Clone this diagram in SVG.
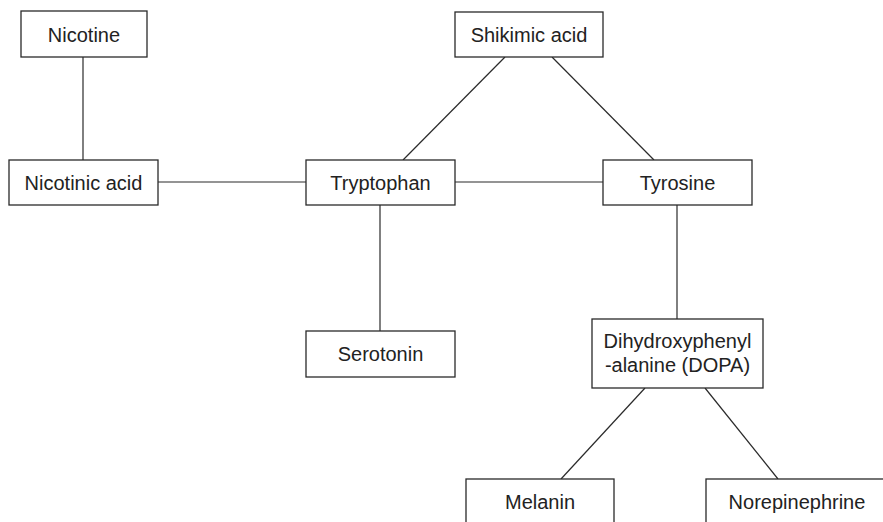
<svg xmlns="http://www.w3.org/2000/svg" width="883" height="522" viewBox="0 0 883 522">
<style>
.box{fill:#fff;stroke:#2a2a2a;stroke-width:1.3}
line{stroke:#2a2a2a;stroke-width:1.2}
text{font-family:"Liberation Sans",Arial,sans-serif;font-size:20px;fill:#222;text-anchor:middle}
</style>
<rect width="883" height="522" fill="#fff"/>
<g id="connectors">
<line x1="83" y1="57" x2="83" y2="160"/>
<line x1="158" y1="182" x2="306" y2="182"/>
<line x1="455" y1="182" x2="603" y2="182"/>
<line x1="505" y1="57" x2="403" y2="160"/>
<line x1="552" y1="57" x2="654" y2="160"/>
<line x1="380" y1="205" x2="380" y2="331"/>
<line x1="677" y1="205" x2="677" y2="319"/>
<line x1="645" y1="388" x2="561" y2="479"/>
<line x1="705" y1="388" x2="778" y2="479"/>
</g>
<g id="nicotine"><rect class="box" x="21" y="11" width="126" height="46"/><text x="84" y="42">Nicotine</text></g>
<g id="nicotinic-acid"><rect class="box" x="9" y="160" width="149" height="45"/><text x="83.5" y="190">Nicotinic acid</text></g>
<g id="shikimic-acid"><rect class="box" x="455" y="12" width="148" height="45"/><text x="529" y="42">Shikimic acid</text></g>
<g id="tryptophan"><rect class="box" x="306" y="160" width="149" height="45"/><text x="380.5" y="190">Tryptophan</text></g>
<g id="tyrosine"><rect class="box" x="603" y="160" width="149" height="45"/><text x="677.5" y="190">Tyrosine</text></g>
<g id="serotonin"><rect class="box" x="306" y="331" width="149" height="46"/><text x="380.5" y="361">Serotonin</text></g>
<g id="dopa"><rect class="box" x="592" y="319" width="171" height="69"/><text x="677.5" y="348">Dihydroxyphenyl</text><text x="677.5" y="372">-alanine (DOPA)</text></g>
<g id="melanin"><rect class="box" x="466" y="479" width="148" height="60"/><text x="540" y="509">Melanin</text></g>
<g id="norepinephrine"><rect class="box" x="706" y="479" width="190" height="60"/><text x="797" y="509">Norepinephrine</text></g>
</svg>
